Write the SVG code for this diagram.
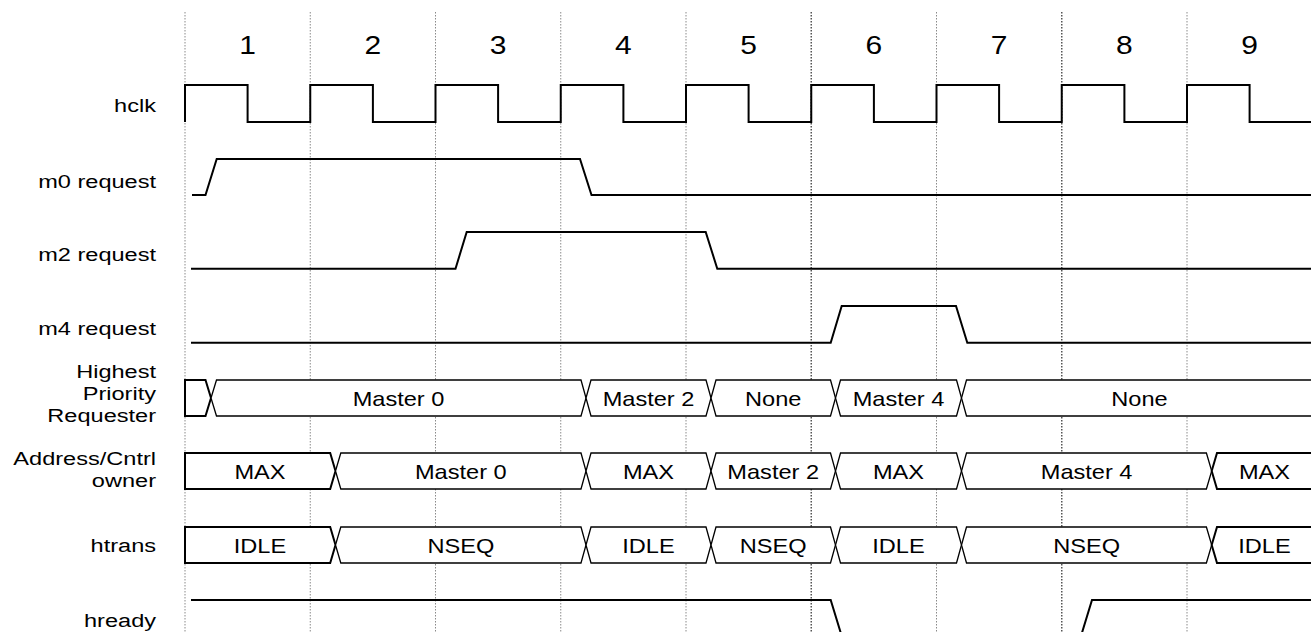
<svg xmlns="http://www.w3.org/2000/svg" width="1311" height="632" viewBox="0 0 1311 632">
<style>
text{font-family:"Liberation Sans",Arial,Helvetica,sans-serif;fill:#000}
.lbl{font-size:19px;text-anchor:end}
.num{font-size:25px;text-anchor:middle}
.bt{font-size:20px;text-anchor:middle}
.grid{stroke:#8a8a8a;stroke-width:1;stroke-dasharray:1.5 1.5;fill:none}
.sig{stroke:#000;stroke-width:2;fill:none;stroke-linejoin:miter}
.bus{stroke:#000;stroke-width:1.3;fill:#fff;stroke-linejoin:miter}
.busb{stroke:#000;stroke-width:2;fill:#fff;stroke-linejoin:miter}
</style>
<rect width="1311" height="632" fill="#fff"/>
<g id="grid">
<line class="grid" x1="185" y1="12" x2="185" y2="632"/>
<line class="grid" x1="310.25" y1="12" x2="310.25" y2="632"/>
<line class="grid" x1="435.5" y1="12" x2="435.5" y2="632"/>
<line class="grid" x1="560.75" y1="12" x2="560.75" y2="632"/>
<line class="grid" x1="686" y1="12" x2="686" y2="632"/>
<line class="grid" x1="811.25" y1="12" x2="811.25" y2="632" style="stroke:#555;stroke-width:1.5"/>
<line class="grid" x1="936.5" y1="12" x2="936.5" y2="632"/>
<line class="grid" x1="1061.75" y1="12" x2="1061.75" y2="632" style="stroke:#555;stroke-width:1.5"/>
<line class="grid" x1="1187" y1="12" x2="1187" y2="632"/>
</g>
<g id="cycle-numbers">
<text class="num" transform="translate(247.6,54) scale(1.2,1)">1</text>
<text class="num" transform="translate(372.9,54) scale(1.2,1)">2</text>
<text class="num" transform="translate(498.1,54) scale(1.2,1)">3</text>
<text class="num" transform="translate(623.4,54) scale(1.2,1)">4</text>
<text class="num" transform="translate(748.6,54) scale(1.2,1)">5</text>
<text class="num" transform="translate(873.9,54) scale(1.2,1)">6</text>
<text class="num" transform="translate(999.1,54) scale(1.2,1)">7</text>
<text class="num" transform="translate(1124.4,54) scale(1.2,1)">8</text>
<text class="num" transform="translate(1249.6,54) scale(1.2,1)">9</text>
</g>
<g id="labels">
<text class="lbl" transform="translate(156,112) scale(1.24,1)">hclk</text>
<text class="lbl" transform="translate(156,188) scale(1.24,1)">m0 request</text>
<text class="lbl" transform="translate(156,261) scale(1.24,1)">m2 request</text>
<text class="lbl" transform="translate(156,335) scale(1.24,1)">m4 request</text>
<text class="lbl" transform="translate(156,377.5) scale(1.24,1)">Highest</text>
<text class="lbl" transform="translate(156,399.5) scale(1.24,1)">Priority</text>
<text class="lbl" transform="translate(156,421.5) scale(1.24,1)">Requester</text>
<text class="lbl" transform="translate(156,465) scale(1.24,1)">Address/Cntrl</text>
<text class="lbl" transform="translate(156,487) scale(1.24,1)">owner</text>
<text class="lbl" transform="translate(156,552) scale(1.24,1)">htrans</text>
<text class="lbl" transform="translate(156,627) scale(1.24,1)">hready</text>
</g>
<g id="hclk">
<path class="sig" d="M185,122 V85 H247.6 V122 H310.25 V85 H372.9 V122 H435.5 V85 H498.1 V122 H560.75 V85 H623.4 V122 H686 V85 H748.6 V122 H811.25 V85 H873.9 V122 H936.5 V85 H999.1 V122 H1061.75 V85 H1124.4 V122 H1187 V85 H1249.6 V122 H1311"/>
</g>
<g id="m0-request">
<path class="sig" d="M192,195 H205.5 L216.7,159 H580 L591.5,195 H1311"/>
</g>
<g id="m2-request">
<path class="sig" d="M191,268.7 H455.5 L466.7,232 H705.7 L717.3,268.7 H1311"/>
</g>
<g id="m4-request">
<path class="sig" d="M191,342.7 H830.7 L841.7,306 H956 L967.3,342.7 H1311"/>
</g>
<g id="highest-priority-requester">
<path class="busb" d="M185,380 H205.5 L211,398 L205.5,416 H185 Z"/>
<path class="bus" d="M216.5,380 H581 L586,398 L581,416 H216.5 L211,398 Z"/>
<path class="bus" d="M591,380 H706 L711,398 L706,416 H591 L586,398 Z"/>
<path class="bus" d="M716,380 H830.5 L835.5,398 L830.5,416 H716 L711,398 Z"/>
<path class="bus" d="M840.5,380 H956.5 L961.5,398 L956.5,416 H840.5 L835.5,398 Z"/>
<path class="bus" d="M1311,380 H966.5 L961.5,398 L966.5,416 H1311"/>
<text class="bt" transform="translate(398.5,405.5) scale(1.18,1)">Master 0</text>
<text class="bt" transform="translate(648.5,405.5) scale(1.18,1)">Master 2</text>
<text class="bt" transform="translate(773.2,405.5) scale(1.18,1)">None</text>
<text class="bt" transform="translate(898.5,405.5) scale(1.18,1)">Master 4</text>
<text class="bt" transform="translate(1139.5,405.5) scale(1.18,1)">None</text>
</g>
<g id="address-cntrl-owner">
<path class="busb" d="M185,453 H330.2 L335.5,471 L330.2,489 H185 Z"/>
<path class="bus" d="M340.8,453 H581 L586,471 L581,489 H340.8 L335.5,471 Z"/>
<path class="bus" d="M591,453 H706 L711,471 L706,489 H591 L586,471 Z"/>
<path class="bus" d="M716,453 H830.5 L835.5,471 L830.5,489 H716 L711,471 Z"/>
<path class="bus" d="M840.5,453 H956.5 L961.5,471 L956.5,489 H840.5 L835.5,471 Z"/>
<path class="bus" d="M966.5,453 H1206.4 L1211.7,471 L1206.4,489 H966.5 L961.5,471 Z"/>
<path class="busb" d="M1311,453 H1217 L1211.7,471 L1217,489 H1311"/>
<text class="bt" transform="translate(260,478.5) scale(1.18,1)">MAX</text>
<text class="bt" transform="translate(460.8,478.5) scale(1.18,1)">Master 0</text>
<text class="bt" transform="translate(648.5,478.5) scale(1.18,1)">MAX</text>
<text class="bt" transform="translate(773.2,478.5) scale(1.18,1)">Master 2</text>
<text class="bt" transform="translate(898.5,478.5) scale(1.18,1)">MAX</text>
<text class="bt" transform="translate(1086.6,478.5) scale(1.18,1)">Master 4</text>
<text class="bt" transform="translate(1264.5,478.5) scale(1.18,1)">MAX</text>
</g>
<g id="htrans">
<path class="busb" d="M185,527 H330.2 L335.5,545 L330.2,563 H185 Z"/>
<path class="bus" d="M340.8,527 H581 L586,545 L581,563 H340.8 L335.5,545 Z"/>
<path class="bus" d="M591,527 H706 L711,545 L706,563 H591 L586,545 Z"/>
<path class="bus" d="M716,527 H830.5 L835.5,545 L830.5,563 H716 L711,545 Z"/>
<path class="bus" d="M840.5,527 H956.5 L961.5,545 L956.5,563 H840.5 L835.5,545 Z"/>
<path class="bus" d="M966.5,527 H1206.4 L1211.7,545 L1206.4,563 H966.5 L961.5,545 Z"/>
<path class="busb" d="M1311,527 H1217 L1211.7,545 L1217,563 H1311"/>
<text class="bt" transform="translate(260,552.5) scale(1.18,1)">IDLE</text>
<text class="bt" transform="translate(460.8,552.5) scale(1.18,1)">NSEQ</text>
<text class="bt" transform="translate(648.5,552.5) scale(1.18,1)">IDLE</text>
<text class="bt" transform="translate(773.2,552.5) scale(1.18,1)">NSEQ</text>
<text class="bt" transform="translate(898.5,552.5) scale(1.18,1)">IDLE</text>
<text class="bt" transform="translate(1086.6,552.5) scale(1.18,1)">NSEQ</text>
<text class="bt" transform="translate(1264.5,552.5) scale(1.18,1)">IDLE</text>
</g>
<g id="hready">
<path class="sig" d="M191,600 H830.7 L841.7,636"/>
<path class="sig" d="M1081,636 L1092,600 H1311"/>
</g>
</svg>
